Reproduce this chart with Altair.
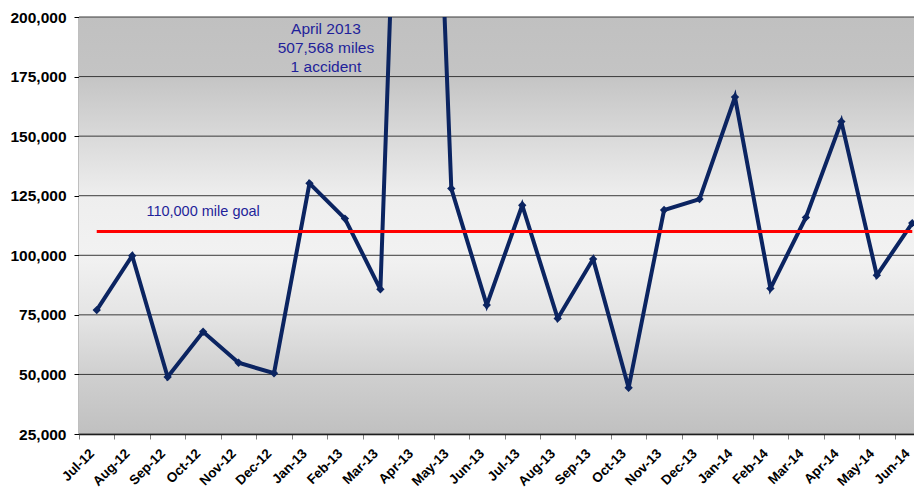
import altair as alt
import pandas as pd

months = ["Jul-12", "Aug-12", "Sep-12", "Oct-12", "Nov-12", "Dec-12",
          "Jan-13", "Feb-13", "Mar-13", "Apr-13", "May-13", "Jun-13",
          "Jul-13", "Aug-13", "Sep-13", "Oct-13", "Nov-13", "Dec-13",
          "Jan-14", "Feb-14", "Mar-14", "Apr-14", "May-14", "Jun-14"]
miles = [77000, 99800, 48900, 67900, 54900, 50500,
         130200, 115400, 85700, 507568, 128000, 79100,
         121000, 73500, 98400, 44400, 119000, 123600,
         166400, 86100, 115900, 156100, 91600, 113500]
goal = 110000
y_ticks = [25000, 50000, 75000, 100000, 125000, 150000, 175000, 200000]
note_lines = ["April 2013", "507,568 miles", "1 accident"]
goal_label = "110,000 mile goal"

W = 835          # visible plot width (svg ends at the window edge)
XR = 851         # x range: the last band runs past the window edge
H = 417
NAVY = "#0b2461"
TEXT_BLUE = "#1f1f9a"
FONT = "Liberation Sans"

df = pd.DataFrame({"month": months, "miles": miles})
grid_df = pd.DataFrame({"v": y_ticks})

x_scale = alt.Scale(type="band", domain=months, paddingInner=0,
                    paddingOuter=0, range=[0, XR])
y_scale = alt.Scale(domain=[25000, 200000], nice=False, zero=False)

x_axis = alt.Axis(title=None, labelAngle=-45, labelAlign="right",
                  labelBaseline="middle", labelFont=FONT,
                  labelFontSize=13.5, labelFontWeight="bold",
                  labelColor="black", labelPadding=12, labelOffset=-5,
                  tickBand="extent", tickColor="#808080", tickSize=5,
                  domainColor="black", domainWidth=1.5, grid=False)
y_axis = alt.Axis(title=None, values=y_ticks, format=",.0f",
                  labelFont=FONT, labelFontSize=15.5,
                  labelFontWeight="bold", labelColor="black",
                  tickColor="black", tickSize=5, labelPadding=8,
                  domainColor="black", domainWidth=1.5, grid=False)

gradient = alt.LinearGradient(
    gradient="linear", x1=0, x2=0, y1=0, y2=1,
    stops=[
        alt.GradientStop(offset=0.0, color="#c0c0c0"),
        alt.GradientStop(offset=0.14, color="#c4c4c4"),
        alt.GradientStop(offset=0.43, color="#eeeeee"),
        alt.GradientStop(offset=0.57, color="#f2f2f2"),
        alt.GradientStop(offset=0.72, color="#e4e4e4"),
        alt.GradientStop(offset=0.86, color="#cfcfcf"),
        alt.GradientStop(offset=1.0, color="#c0c0c0"),
    ],
)

X = alt.X("month:N", sort=months, scale=x_scale, axis=x_axis)
Y = alt.Y("miles:Q", scale=y_scale, axis=y_axis)

bg = alt.Chart(df).mark_rect(fill=gradient).encode(
    x=alt.value(0), x2=alt.value(XR),
    y=alt.datum(200000, scale=y_scale, axis=y_axis), y2=alt.datum(25000),
)

grid = alt.Chart(grid_df).mark_rule(color="#3a3a3a", strokeWidth=1).encode(
    x=alt.value(0), x2=alt.value(XR),
    y=alt.Y("v:Q", scale=y_scale, axis=y_axis)
)

line = alt.Chart(df).mark_line(color=NAVY, strokeWidth=4, clip=True).encode(
    x=X, y=Y)

pts = alt.Chart(df).mark_point(shape="diamond", filled=True, size=70,
                               color=NAVY, opacity=1, clip=True).encode(
    x=X, y=Y)

goal_rule = alt.Chart(pd.DataFrame({"g": [goal]})).mark_rule(
    color="#ff0000", strokeWidth=3).encode(
    x=alt.datum(months[0], bandPosition=0.5, scale=x_scale, axis=x_axis),
    x2=alt.datum(months[-1], bandPosition=0.5),
    y=alt.Y("g:Q", scale=y_scale, axis=y_axis),
)

goal_text = alt.Chart(pd.DataFrame({"t": [goal_label]})).mark_text(
    color=TEXT_BLUE, font=FONT, fontSize=14.5, align="center",
    baseline="middle").encode(
    x=alt.datum("Oct-12", scale=x_scale, axis=x_axis),
    y=alt.datum(118000, scale=y_scale, axis=y_axis),
    text="t:N"
)

note = alt.Chart(pd.DataFrame({"t": [note_lines]})).mark_text(
    color=TEXT_BLUE, font=FONT, fontSize=15.5, align="center",
    baseline="top", lineHeight=19, dx=-19).encode(
    x=alt.datum("Feb-13", scale=x_scale, axis=x_axis),
    y=alt.datum(197800, scale=y_scale, axis=y_axis),
    text="t"
)

chart = alt.layer(bg, grid, line, pts, goal_rule, goal_text, note).properties(
    width=W, height=H,
    autosize=alt.AutoSizeParams(type="none"),
    padding={"left": 71, "top": 9, "right": 0, "bottom": 68},
).configure_view(stroke=None).configure(background="white")

chart.save("out.html", embed_options={"renderer": "svg", "actions": False})
